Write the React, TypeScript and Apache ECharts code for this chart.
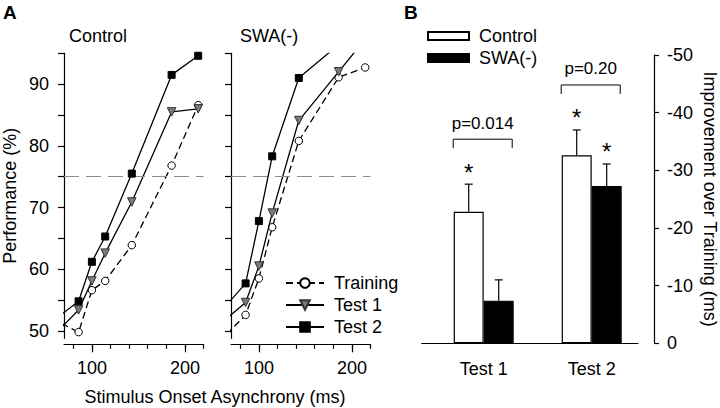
import React, { useEffect, useRef } from 'react';
import * as echarts from 'echarts';

// ---- Panel A data (Stimulus Onset Asynchrony in ms, Performance in %) ----
const soa = [57.1, 85.7, 100, 114.3, 142.9, 185.7, 214.3];
const controlTraining = [52.0, 49.8, 56.6, 58.1, 63.9, 76.8, 86.6];
const controlTest1 = [49.0, 53.4, 58.1, 62.6, 70.9, 85.5, 86.0];
const controlTest2 = [51.5, 54.8, 61.2, 65.3, 75.5, 91.5, 94.6];
const swaTraining = [48.2, 52.6, 58.5, 66.8, 80.8, 91.1, 92.7];
const swaTest1 = [51.0, 54.6, 60.5, 69.1, 84.1, 92.0, 97.3];
const swaTest2 = [52.8, 57.7, 67.8, 78.3, 91.0, 96.4, null];
const threshold = 75;
const perfTicks = [50, 55, 60, 65, 70, 75, 80, 85, 90, 95];
const perfLabels = [50, 60, 70, 80, 90];
const soaTicks = [80, 100, 120, 140, 160, 180, 200, 220];
const soaMajorTicks = [100, 200];

// ---- Panel B data (Improvement over Training, ms) ----
const testCategories = ['Test 1', 'Test 2'];
const controlImprovement = [-22.8, -32.6];
const controlErrTop = [-27.6, -37.0];
const swaImprovement = [-7.4, -27.3];
const swaErrTop = [-11.0, -31.1];
const controlSig = [true, true];
const swaSig = [false, true];
const pLabels = ['p=0.014', 'p=0.20'];
const bracketLevels = [-35.4, -44.8];

const FONT = 'Liberation Sans, Arial, Helvetica, sans-serif';

const pairs = (ys: (number | null)[]) => soa.map((x, i) => [x, ys[i]]);

const lineSeries = (name: string, ys: (number | null)[], xi: number, yi: number, withMark: boolean) => {
  const base: any = {
    name,
    type: 'line',
    xAxisIndex: xi,
    yAxisIndex: yi,
    data: pairs(ys),
    clip: true,
    connectNulls: false,
    lineStyle: { color: '#000', width: 1.3, type: name === 'Training' ? [7, 4] : 'solid' },
    symbol: name === 'Training' ? 'circle' : name === 'Test 1' ? 'triangle' : 'rect',
    symbolRotate: name === 'Test 1' ? 180 : 0,
    symbolSize: name === 'Training' ? 7.5 : name === 'Test 1' ? 8.5 : 7,
    itemStyle: {
      color: name === 'Training' ? '#fff' : name === 'Test 1' ? '#7a7a7a' : '#000',
      borderColor: name === 'Test 1' ? '#333' : '#000',
      borderWidth: 1,
    },
    z: name === 'Training' ? 3 : name === 'Test 1' ? 4 : 5,
  };
  if (withMark) {
    base.markLine = {
      silent: true,
      symbol: ['none', 'none'],
      label: { show: false },
      lineStyle: { color: '#8c8c8c', type: [15, 7], width: 1.2 },
      data: [{ yAxis: threshold }],
    };
  }
  return base;
};

const errorSeries = (means: number[], tops: number[], sig: boolean[], offset: number) => ({
  type: 'custom',
  xAxisIndex: 4,
  yAxisIndex: 2,
  silent: true,
  z: 5,
  data: means.map((m, i) => [i, m, tops[i]]),
  renderItem: (params: any, api: any) => {
    const i = params.dataIndex;
    const base = api.coord([api.value(0), api.value(1)]);
    const top = api.coord([api.value(0), api.value(2)]);
    const x = base[0] + offset;
    const st = { stroke: '#000', lineWidth: 1.2 };
    const children: any[] = [
      { type: 'line', shape: { x1: x, y1: base[1], x2: x, y2: top[1] }, style: st },
      { type: 'line', shape: { x1: x - 4, y1: top[1], x2: x + 4, y2: top[1] }, style: st },
    ];
    if (sig[i]) {
      children.push({
        type: 'text',
        x,
        y: top[1] - 12,
        style: { text: '*', fill: '#000', font: `24px ${FONT}`, align: 'center', verticalAlign: 'middle' },
      });
    }
    return { type: 'group', children };
  },
});

const bracketSeries = {
  type: 'custom',
  xAxisIndex: 4,
  yAxisIndex: 2,
  silent: true,
  z: 5,
  data: bracketLevels.map((v, i) => [i, v]),
  renderItem: (params: any, api: any) => {
    const i = params.dataIndex;
    const c = api.coord([api.value(0), api.value(1)]);
    const l = c[0] - 30.5;
    const r = c[0] + 28.5;
    const y = c[1];
    return {
      type: 'group',
      children: [
        {
          type: 'polyline',
          shape: { points: [[l, y + 9], [l, y], [r, y], [r, y + 9]] },
          style: { stroke: '#000', lineWidth: 1, fill: 'none' },
        },
        {
          type: 'text',
          x: c[0] - 1,
          y: y - 16,
          style: { text: pLabels[i], fill: '#000', font: `17px ${FONT}`, align: 'center', verticalAlign: 'middle' },
        },
      ],
    };
  },
};

const perfYAxis = (gridIndex: number, showLabels: boolean) => ({
  type: 'value',
  gridIndex,
  min: 48.8,
  max: 95,
  splitLine: { show: false },
  axisLine: { show: true, onZero: false, lineStyle: { color: '#000', width: 1.2 } },
  axisTick: { show: true, length: 6, customValues: perfTicks, lineStyle: { color: '#000', width: 1.2 } },
  axisLabel: { show: showLabels, customValues: perfLabels, fontSize: 18, color: '#000', margin: 15, fontFamily: FONT },
  name: showLabels ? 'Performance (%)' : '',
  nameLocation: 'middle',
  nameGap: 45,
  nameTextStyle: { fontSize: 18, color: '#000', fontFamily: FONT },
});

const soaXAxes = (gridIndex: number) => [
  {
    type: 'value',
    gridIndex,
    position: 'bottom',
    min: 70,
    max: 220,
    offset: 6,
    splitLine: { show: false },
    axisLine: { show: true, onZero: false, lineStyle: { color: '#000', width: 1.2 } },
    axisTick: { show: true, length: 4.5, customValues: soaTicks, lineStyle: { color: '#000', width: 1.2 } },
    axisLabel: { show: true, customValues: soaMajorTicks, fontSize: 18, color: '#000', margin: 15, fontFamily: FONT },
  },
  {
    type: 'value',
    gridIndex,
    position: 'bottom',
    min: 70,
    max: 220,
    offset: 6,
    splitLine: { show: false },
    axisLine: { show: false, onZero: false },
    axisTick: { show: true, length: 8, customValues: soaMajorTicks, lineStyle: { color: '#000', width: 1.2 } },
    axisLabel: { show: false },
  },
];

export default function App() {
  const ref = useRef<HTMLDivElement>(null);
  useEffect(() => {
    document.body.style.margin = '0';
    if (!ref.current) return;
    const chart = echarts.init(ref.current, null, { renderer: 'svg' });
    const option: any = {
      animation: false,
      backgroundColor: '#fff',
      textStyle: { fontFamily: FONT, color: '#000' },
      grid: [
        { left: 64, top: 53.3, width: 139.5, height: 285, outerBoundsMode: 'none', containLabel: false },
        { left: 231, top: 53.3, width: 139.5, height: 285, outerBoundsMode: 'none', containLabel: false },
        { left: 429.7, top: 55, width: 216, height: 288.3, outerBoundsMode: 'none', containLabel: false },
        { left: 421.7, top: 55, width: 216.3, height: 288.3, outerBoundsMode: 'none', containLabel: false },
      ],
      xAxis: [
        ...soaXAxes(0),
        ...soaXAxes(1),
        {
          type: 'category',
          gridIndex: 2,
          data: testCategories,
          axisLine: { show: false },
          axisTick: { show: false },
          axisLabel: { fontSize: 18, color: '#000', margin: 17, fontFamily: FONT },
        },
        {
          type: 'category',
          gridIndex: 3,
          data: ['', ''],
          axisLine: { show: true, onZero: false, lineStyle: { color: '#000', width: 1.2 } },
          axisTick: { show: false },
          axisLabel: { show: false },
        },
      ],
      yAxis: [
        perfYAxis(0, true),
        perfYAxis(1, false),
        {
          type: 'value',
          gridIndex: 2,
          position: 'right',
          offset: 8.3,
          min: -50,
          max: 0,
          interval: 10,
          inverse: true,
          splitLine: { show: false },
          axisLine: { show: true, lineStyle: { color: '#000', width: 1.2 } },
          axisTick: { show: true, length: 5, lineStyle: { color: '#000', width: 1.2 } },
          axisLabel: { fontSize: 18, color: '#000', margin: 13, fontFamily: FONT },
          name: 'Improvement over Training (ms)',
          nameLocation: 'middle',
          nameRotate: -90,
          nameGap: 47,
          nameTextStyle: { fontSize: 18, color: '#000', fontFamily: FONT },
        },
        { type: 'value', gridIndex: 3, min: 0, max: 1, show: false },
      ],
      legend: [
        {
          data: ['Training', 'Test 1', 'Test 2'],
          orient: 'vertical',
          left: 285,
          top: 274,
          padding: 0,
          itemWidth: 38,
          itemHeight: 12,
          itemGap: 4,
          selectedMode: false,
          textStyle: { fontSize: 18, color: '#000', fontFamily: FONT, padding: [0, 0, 0, 5] },
        },
        {
          data: ['Control', 'SWA(-)'],
          orient: 'vertical',
          left: 427,
          top: 27,
          padding: 0,
          itemWidth: 41,
          itemHeight: 8,
          itemGap: 4,
          icon: 'rect',
          selectedMode: false,
          textStyle: { fontSize: 18, color: '#000', fontFamily: FONT, padding: [0, 0, 0, 5] },
        },
      ],
      graphic: [
        { type: 'text', left: 3, top: 3, style: { text: 'A', font: `bold 19px ${FONT}`, fill: '#000' } },
        { type: 'text', left: 404, top: 3, style: { text: 'B', font: `bold 19px ${FONT}`, fill: '#000' } },
        { type: 'text', x: 69, y: 36, style: { text: 'Control', font: `18px ${FONT}`, fill: '#000', verticalAlign: 'middle' } },
        { type: 'text', x: 240, y: 36, style: { text: 'SWA(-)', font: `18px ${FONT}`, fill: '#000', verticalAlign: 'middle' } },
        {
          type: 'text',
          x: 215,
          y: 397,
          style: { text: 'Stimulus Onset Asynchrony (ms)', font: `18px ${FONT}`, fill: '#000', align: 'center', verticalAlign: 'middle' },
        },
      ],
      series: [
        lineSeries('Training', controlTraining, 0, 0, true),
        lineSeries('Test 1', controlTest1, 0, 0, false),
        lineSeries('Test 2', controlTest2, 0, 0, false),
        lineSeries('Training', swaTraining, 2, 1, true),
        lineSeries('Test 1', swaTest1, 2, 1, false),
        lineSeries('Test 2', swaTest2, 2, 1, false),
        {
          name: 'Control',
          type: 'bar',
          xAxisIndex: 4,
          yAxisIndex: 2,
          data: controlImprovement,
          barWidth: 30,
          barGap: '0%',
          itemStyle: { color: '#fff', borderColor: '#000', borderWidth: 1.2 },
        },
        {
          name: 'SWA(-)',
          type: 'bar',
          xAxisIndex: 4,
          yAxisIndex: 2,
          data: swaImprovement,
          barWidth: 30,
          barGap: '0%',
          itemStyle: { color: '#000', borderColor: '#000', borderWidth: 1.2 },
        },
        errorSeries(controlImprovement, controlErrTop, controlSig, -15),
        errorSeries(swaImprovement, swaErrTop, swaSig, 15),
        bracketSeries,
      ],
    };
    chart.setOption(option);
    return () => chart.dispose();
  }, []);
  return <div ref={ref} style={{ width: 720, height: 408 }} />;
}
